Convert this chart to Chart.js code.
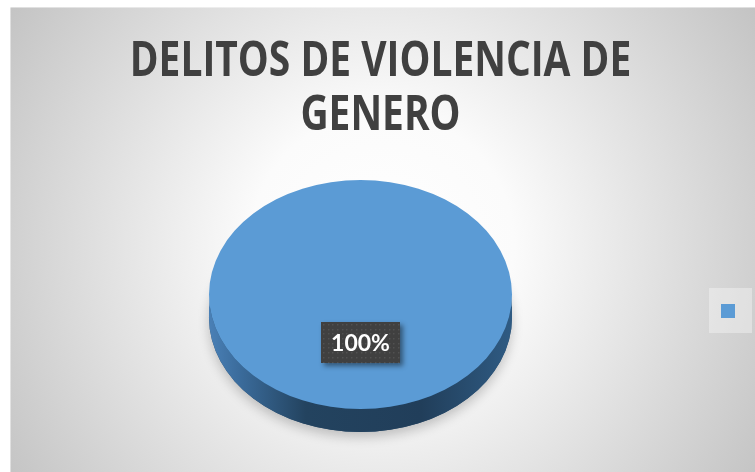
<!DOCTYPE html>
<html>
<head>
<meta charset="utf-8">
<script src="https://cdn.jsdelivr.net/npm/chart.js@4.4.0/dist/chart.umd.min.js"></script>
<style>
html,body{margin:0;padding:0;background:#fff;}
canvas{display:block;}
</style>
</head>
<body>
<canvas id="c" width="755" height="472"></canvas>
<script>
// ---- data ----
const titleLines = ['DELITOS DE VIOLENCIA DE', 'GENERO'];
const categories = [''];
const values = [100];
const percentLabels = ['100%'];
const sliceColors = ['#5B9BD5'];

// ---- 3D look / typography ----
const TILT = 0.756;      // vertical squash of the pie top face
const DEPTH = 23;        // thickness of the pie side, px
const LABEL_FRAC = 0.42; // label distance from centre along mid-angle
const TITLE_CONDENSE = 0.795; // horizontal squeeze to mimic a narrow title face

const bgPlugin = {
  id: 'bg',
  beforeDraw(chart) {
    const ctx = chart.ctx, W = chart.width, H = chart.height;
    ctx.save();
    ctx.fillStyle = '#ffffff';
    ctx.fillRect(0, 0, W, H);
    const g = ctx.createRadialGradient(382, 245, 0, 382, 245, 440);
    g.addColorStop(0, '#ffffff');
    g.addColorStop(0.3, '#fbfbfb');
    g.addColorStop(1, '#c4c4c4');
    ctx.fillStyle = g;
    ctx.fillRect(10, 7, W - 10, H - 7);
    ctx.fillStyle = 'rgba(255,255,255,0.45)';
    ctx.fillRect(10, 7, W - 10, 1);
    ctx.fillRect(10, 7, 1, H - 7);
    // legend entry background
    const lg = chart.legend;
    if (lg && lg.legendHitBoxes && lg.legendHitBoxes[0]) {
      const hb = lg.legendHitBoxes[0];
      ctx.fillStyle = 'rgba(255,255,255,0.35)';
      ctx.fillRect(hb.left - 12, hb.top - 16, 43, 45);
    }
    ctx.restore();
  }
};

const condensedTitlePlugin = {
  id: 'condensedTitle',
  afterLayout(chart) {
    const tb = chart.titleBlock;
    if (!tb || tb._condensed) return;
    const orig = tb.draw;
    tb.draw = function (area) {
      const ctx = this.ctx;
      const cx = (this.left + this.right) / 2;
      ctx.save();
      ctx.translate(cx, 0);
      ctx.scale(TITLE_CONDENSE, 1);
      ctx.translate(-cx, 0);
      orig.call(this, area);
      ctx.restore();
    };
    tb._condensed = true;
  }
};

function frontRanges(start, end) {
  const out = [];
  for (let k = -1; k <= 1; k++) {
    const lo = Math.max(start, 2 * Math.PI * k);
    const hi = Math.min(end, 2 * Math.PI * k + Math.PI);
    if (hi > lo) out.push([lo, hi]);
  }
  return out;
}

const pie3dPlugin = {
  id: 'pie3d',
  beforeDatasetsDraw(chart) {
    const ctx = chart.ctx;
    const meta = chart.getDatasetMeta(0);
    const first = meta.data[0].getProps(['x', 'y', 'outerRadius'], true);
    const x = first.x, y = first.y, r = first.outerRadius;
    const topY = y - DEPTH / 2;
    const ry = r * TILT;
    // soft shadow under the pie
    ctx.save();
    ctx.shadowColor = 'rgba(0,0,0,0.22)';
    ctx.shadowBlur = 12;
    ctx.shadowOffsetY = 5;
    ctx.beginPath();
    ctx.ellipse(x, topY + DEPTH, r, ry, 0, 0, Math.PI * 2);
    ctx.fillStyle = '#264a6c';
    ctx.fill();
    ctx.restore();
    // side band of every slice
    meta.data.forEach((arc) => {
      const p = arc.getProps(['startAngle', 'endAngle'], true);
      frontRanges(p.startAngle, p.endAngle).forEach(([lo, hi]) => {
        ctx.save();
        const g = ctx.createLinearGradient(x - r, 0, x + r, 0);
        g.addColorStop(0, '#4a80b6');
        g.addColorStop(0.1, '#3b6c9c');
        g.addColorStop(0.32, '#23435f');
        g.addColorStop(0.7, '#213e5a');
        g.addColorStop(1, '#2f5b83');
        ctx.fillStyle = g;
        ctx.beginPath();
        ctx.moveTo(x + r * Math.cos(lo), topY + ry * Math.sin(lo));
        ctx.lineTo(x + r * Math.cos(lo), topY + DEPTH + ry * Math.sin(lo));
        ctx.ellipse(x, topY + DEPTH, r, ry, 0, lo, hi, false);
        ctx.lineTo(x + r * Math.cos(hi), topY + ry * Math.sin(hi));
        ctx.ellipse(x, topY, r, ry, 0, hi, lo, true);
        ctx.closePath();
        ctx.fill();
        ctx.restore();
      });
    });
    // project the library's arcs onto the tilted top face
    ctx.save();
    ctx.translate(0, topY);
    ctx.scale(1, TILT);
    ctx.translate(0, -y);
  },
  afterDatasetsDraw(chart) {
    const ctx = chart.ctx;
    ctx.restore();
    const meta = chart.getDatasetMeta(0);
    meta.data.forEach((arc, i) => {
      const p = arc.getProps(['x', 'y', 'outerRadius', 'startAngle', 'endAngle'], true);
      const mid = (p.startAngle + p.endAngle) / 2;
      const topY = p.y - DEPTH / 2;
      const lx = p.x + Math.cos(mid) * p.outerRadius * LABEL_FRAC;
      const ly = topY + Math.sin(mid) * p.outerRadius * LABEL_FRAC * TILT;
      const text = percentLabels[i];
      ctx.save();
      ctx.font = 'bold 23px Lato, "Open Sans", sans-serif';
      const tw = ctx.measureText(text).width;
      const bw = Math.round(tw + 20), bh = 41;
      const bx = Math.round(lx - bw / 2), by = Math.round(ly - bh / 2);
      ctx.save();
      ctx.shadowColor = 'rgba(0,0,0,0.45)';
      ctx.shadowBlur = 5;
      ctx.shadowOffsetX = 3;
      ctx.shadowOffsetY = 3;
      ctx.fillStyle = '#404040';
      ctx.fillRect(bx, by, bw, bh);
      ctx.restore();
      ctx.fillStyle = 'rgba(255,255,255,0.09)';
      for (let yy = by + 2; yy < by + bh - 1; yy += 4.7) {
        for (let xx = bx + 2; xx < bx + bw - 1; xx += 4.7) {
          ctx.fillRect(Math.round(xx), Math.round(yy), 1.5, 1.5);
        }
      }
      ctx.fillStyle = '#ffffff';
      ctx.textAlign = 'center';
      ctx.textBaseline = 'middle';
      ctx.fillText(text, bx + bw / 2, by + bh / 2 + 1);
      ctx.restore();
    });
  }
};

new Chart(document.getElementById('c').getContext('2d'), {
  type: 'pie',
  data: {
    labels: categories,
    datasets: [{
      data: values,
      backgroundColor: sliceColors,
      borderWidth: 0,
      hoverOffset: 0
    }]
  },
  options: {
    responsive: false,
    animation: false,
    events: [],
    layout: { padding: { left: 10, right: 4, top: 0, bottom: 14.5 } },
    plugins: {
      title: {
        display: true,
        text: titleLines,
        color: '#404040',
        font: { family: '"Open Sans", sans-serif', size: 49, weight: 'bold', lineHeight: 54 / 49 },
        padding: { top: 35.5, bottom: 11 }
      },
      legend: {
        position: 'right',
        align: 'center',
        fullSize: false,
        title: { display: true, text: '', font: { size: 8, lineHeight: 1.25 }, padding: 0 },
        labels: { boxWidth: 14, boxHeight: 14, padding: 10, font: { size: 12 }, color: '#595959' }
      },
      tooltip: { enabled: false }
    }
  },
  plugins: [bgPlugin, condensedTitlePlugin, pie3dPlugin]
});
</script>
</body>
</html>
